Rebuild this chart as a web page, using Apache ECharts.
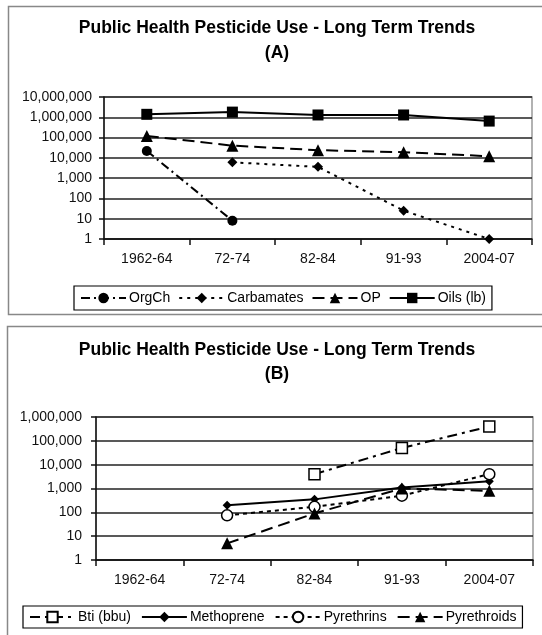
<!DOCTYPE html>
<html>
<head>
<meta charset="utf-8">
<script src="https://cdn.jsdelivr.net/npm/echarts@6/dist/echarts.min.js"></script>
<style>
html,body{margin:0;padding:0;background:#fff;}
#c{width:542px;height:635px;}
</style>
</head>
<body>
<div id="c"></div>
<script>
// ---- Data ----
var periods = ['1962-64', '72-74', '82-84', '91-93', '2004-07'];

// Chart A
var orgCh      = [22000, 8, null, null, null];
var carbamates = [null, 6000, 3600, 25, 1];
var opVals     = [120000, 40000, 24000, 19000, 12000];
var oils       = [1400000, 1800000, 1300000, 1300000, 650000];

// Chart B
var bti         = [null, null, 4000, 50000, 400000];
var methoprene  = [null, 200, 350, 1100, 2000];
var pyrethrins  = [null, 75, 170, 500, 4000];
var pyrethroids = [null, 5, 90, 1000, 800];

var titleA = 'Public Health Pesticide Use - Long Term Trends\n(A)';
var titleB = 'Public Health Pesticide Use - Long Term Trends\n(B)';
var yTicksA = [1, 10, 100, 1000, 10000, 100000, 1000000, 10000000];
var yTicksB = [1, 10, 100, 1000, 10000, 100000, 1000000];

// ---- Chart ----
var FONT = '"Liberation Sans", Arial, sans-serif';
var chart = echarts.init(document.getElementById('c'), null, {renderer: 'canvas'});

function fmt(v) { return Math.round(v).toLocaleString('en-US'); }

function xAxis(gi) {
  return {
    type: 'category', gridIndex: gi, data: periods, boundaryGap: true,
    axisLine: {lineStyle: {color: '#111', width: 1.5}},
    axisTick: {show: true, inside: false, length: 6, alignWithLabel: false, lineStyle: {color: '#111', width: 1.5}},
    axisLabel: {color: '#111', fontFamily: FONT, fontSize: 14, margin: 13},
    splitLine: {show: false}
  };
}
function yAxis(gi, maxV, n, margin) {
  return {
    type: 'log', logBase: 10, gridIndex: gi, min: 1, max: maxV, splitNumber: n,
    axisLine: {show: true, lineStyle: {color: '#111', width: 1.5}},
    axisTick: {show: true, inside: false, length: 5, lineStyle: {color: '#111', width: 1.5}},
    axisLabel: {color: '#111', fontFamily: FONT, fontSize: 14, margin: margin, formatter: fmt},
    splitLine: {show: true, lineStyle: {color: '#222', width: 1.5}},
    minorTick: {show: false}, minorSplitLine: {show: false}
  };
}
function line(name, data, gi, symbol, size, dash, hollow) {
  return {
    name: name, type: 'line', xAxisIndex: gi, yAxisIndex: gi, data: data,
    symbol: symbol, symbolSize: size, showSymbol: true, connectNulls: false,
    lineStyle: {color: '#000', width: 2, type: dash},
    itemStyle: hollow ? {color: '#fff', borderColor: '#000', borderWidth: 1.5}
                      : {color: '#000', borderColor: '#000', borderWidth: 0},
    emphasis: {disabled: true},
    animation: false, z: 3
  };
}

var option = {
  animation: false,
  backgroundColor: '#fff',
  textStyle: {fontFamily: FONT},
  graphic: [
    {type: 'rect', shape: {x: 8.5, y: 6.5, width: 560, height: 308}, style: {fill: 'none', stroke: '#888', lineWidth: 1.5}, z: -10},
    {type: 'rect', shape: {x: 7.5, y: 326.5, width: 560, height: 340}, style: {fill: 'none', stroke: '#888', lineWidth: 1.5}, z: -10}
  ],
  title: [
    {text: titleA, left: 272, top: 11, textAlign: 'center',
     textStyle: {fontFamily: FONT, fontSize: 17.5, fontWeight: 'bold', color: '#000', lineHeight: 25}},
    {text: titleB, left: 272, top: 333, textAlign: 'center',
     textStyle: {fontFamily: FONT, fontSize: 17.5, fontWeight: 'bold', color: '#000', lineHeight: 24}}
  ],
  legend: [
    {data: ['OrgCh', 'Carbamates', 'OP', 'Oils (lb)'], left: 74, top: 286,
     orient: 'horizontal', itemWidth: 45, itemHeight: 13, itemGap: 8,
     padding: [5, 6], borderColor: '#000', borderWidth: 1.2,
     textStyle: {fontFamily: FONT, fontSize: 14, color: '#000', padding: [0, 0, 0, -2]},
     selectedMode: false},
    {data: ['Bti (bbu)', 'Methoprene', 'Pyrethrins', 'Pyrethroids'], left: 23, top: 606,
     orient: 'horizontal', itemWidth: 45, itemHeight: 13, itemGap: 10,
     padding: [4, 6], borderColor: '#000', borderWidth: 1.2,
     textStyle: {fontFamily: FONT, fontSize: 14, color: '#000', padding: [0, 0, 0, -2]},
     selectedMode: false}
  ],
  grid: [
    {left: 104, top: 97, width: 428, height: 142, show: true, borderColor: '#999', borderWidth: 1.5, backgroundColor: 'transparent'},
    {left: 96, top: 417, width: 437, height: 143, show: true, borderColor: '#999', borderWidth: 1.5, backgroundColor: 'transparent'}
  ],
  xAxis: [xAxis(0), xAxis(1)],
  yAxis: [yAxis(0, yTicksA[yTicksA.length - 1], yTicksA.length - 1, 12),
          yAxis(1, yTicksB[yTicksB.length - 1], yTicksB.length - 1, 14)],
  series: [
    line('OrgCh', orgCh, 0, 'circle', 10, [9, 4, 2, 4], false),
    line('Carbamates', carbamates, 0, 'diamond', 10, [3, 5], false),
    line('OP', opVals, 0, 'triangle', 12, [12, 6], false),
    line('Oils (lb)', oils, 0, 'rect', 11, 'solid', false),
    line('Bti (bbu)', bti, 1, 'rect', 11, [10, 5, 3, 5], true),
    line('Methoprene', methoprene, 1, 'diamond', 9, 'solid', false),
    line('Pyrethrins', pyrethrins, 1, 'circle', 11, [4, 4], true),
    line('Pyrethroids', pyrethroids, 1, 'triangle', 12, [12, 6], false)
  ]
};
chart.setOption(option);
</script>
</body>
</html>
